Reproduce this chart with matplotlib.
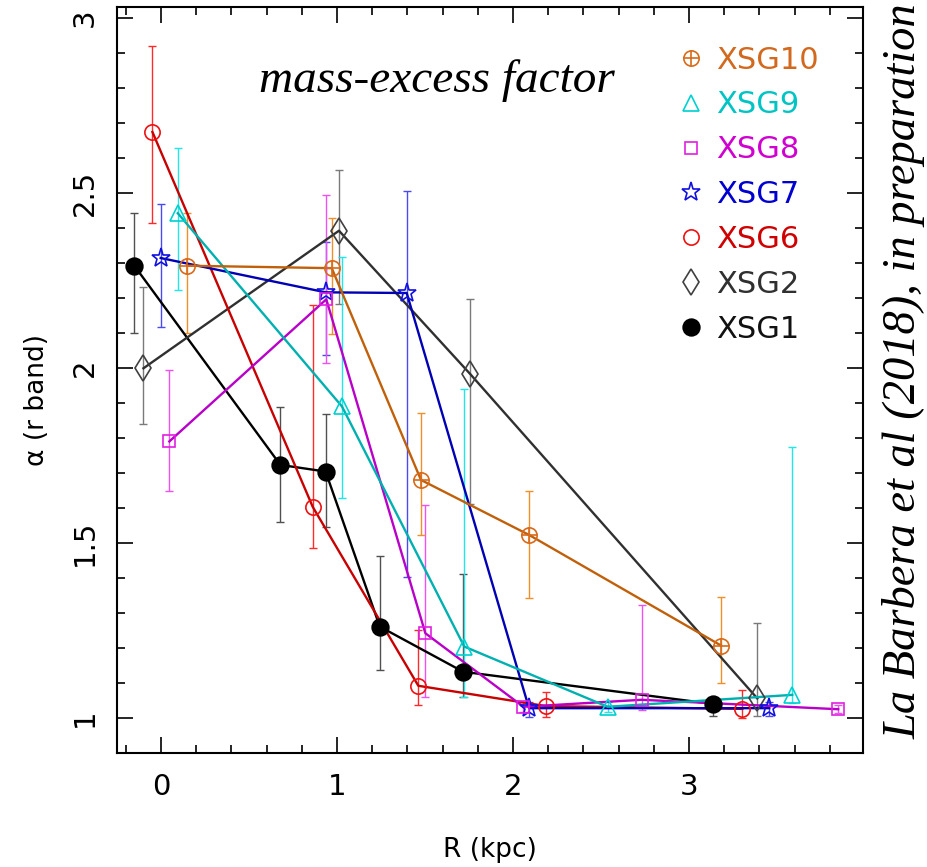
import matplotlib

matplotlib.use("Agg")
import matplotlib.pyplot as plt
import numpy as np
from matplotlib.lines import Line2D
from matplotlib.ticker import MultipleLocator

plt.rcParams["font.family"] = ["DejaVu Sans"]

# radius (kpc), alpha, and the lower / upper end of each error bar
r_xsg1 = [-0.152, 0.678, 0.935, 1.243, 1.717, 3.138]
a_xsg1 = [2.291, 1.722, 1.703, 1.260, 1.131, 1.039]
lo_xsg1 = [2.100, 1.558, 1.544, 1.136, 1.060, 1.006]
hi_xsg1 = [2.443, 1.888, 1.866, 1.462, 1.410, 1.060]

r_xsg2 = [-0.100, 1.011, 1.756, 3.388]
a_xsg2 = [1.998, 2.391, 1.982, 1.055]
lo_xsg2 = [1.840, 2.181, 1.610, 1.006]
hi_xsg2 = [2.231, 2.565, 2.196, 1.271]

r_xsg6 = [-0.049, 0.862, 1.462, 2.187, 3.303]
a_xsg6 = [2.673, 1.602, 1.091, 1.033, 1.025]
lo_xsg6 = [2.414, 1.486, 1.036, 1.001, 0.998]
hi_xsg6 = [2.919, 2.179, 1.251, 1.074, 1.079]

r_xsg7 = [-0.002, 0.935, 1.396, 2.091, 3.456]
a_xsg7 = [2.313, 2.215, 2.213, 1.027, 1.027]
lo_xsg7 = [2.115, 2.036, 1.403, 1.001, 1.005]
hi_xsg7 = [2.466, 2.358, 2.505, 1.046, 1.046]

r_xsg8 = [0.047, 0.939, 1.502, 2.059, 2.731, 3.848]
a_xsg8 = [1.789, 2.195, 1.241, 1.031, 1.051, 1.024]
lo_xsg8 = [1.646, 2.013, 1.060, 1.017, 1.022, 1.012]
hi_xsg8 = [1.993, 2.494, 1.606, 1.045, 1.322, 1.035]

r_xsg9 = [0.095, 1.028, 1.723, 2.538, 3.587]
a_xsg9 = [2.441, 1.889, 1.203, 1.031, 1.065]
lo_xsg9 = [2.222, 1.627, 1.060, 1.017, 1.041]
hi_xsg9 = [2.627, 2.315, 1.939, 1.045, 1.773]

r_xsg10 = [0.150, 0.970, 1.477, 2.091, 3.182]
a_xsg10 = [2.291, 2.284, 1.679, 1.522, 1.206]
lo_xsg10 = [2.098, 2.095, 1.522, 1.341, 1.100]
hi_xsg10 = [2.443, 2.427, 1.869, 1.648, 1.346]

# name, data, marker, line colour, marker colour, error-bar colour, filled, size
SERIES = [
    ("XSG1", r_xsg1, a_xsg1, lo_xsg1, hi_xsg1, "o", "black", "black", "#505050", True, 12),
    ("XSG2", r_xsg2, a_xsg2, lo_xsg2, hi_xsg2, "d", "#303030", "#404040", "#7a7a7a", False, 13),
    ("XSG6", r_xsg6, a_xsg6, lo_xsg6, hi_xsg6, "o", "#c80000", "#ee1111", "#ff2a2a", False, 11),
    ("XSG7", r_xsg7, a_xsg7, lo_xsg7, hi_xsg7, "*", "#0000b4", "#1010e0", "#4a4af0", False, 14),
    ("XSG8", r_xsg8, a_xsg8, lo_xsg8, hi_xsg8, "s", "#b800c8", "#e020e0", "#f050f0", False, 9),
    ("XSG9", r_xsg9, a_xsg9, lo_xsg9, hi_xsg9, "^", "#00b0b0", "#00d0d0", "#20e8e8", False, 11),
    ("XSG10", r_xsg10, a_xsg10, lo_xsg10, hi_xsg10, "o", "#c0600a", "#d86a1a", "#f0902a", False, 11),
]
LEGEND_ORDER = ["XSG10", "XSG9", "XSG8", "XSG7", "XSG6", "XSG2", "XSG1"]
TEXT_COLOURS = {"XSG10": "#d2691e", "XSG9": "#00c4c4", "XSG8": "#d000d0",
                "XSG7": "#0000d0", "XSG6": "#d00000", "XSG2": "#303030",
                "XSG1": "#111111"}

fig = plt.figure(figsize=(9.27, 8.67), dpi=100)
ax = fig.add_axes([0.1259, 0.1311, 0.8047, 0.8612])

handles = {}
for name, r, a, lo, hi, mk, lc, mc, ec, filled, ms in SERIES:
    r, a, lo, hi = map(np.asarray, (r, a, lo, hi))
    ax.errorbar(r, a, yerr=[a - lo, hi - a], fmt="none", ecolor=ec,
                elinewidth=1.0, capsize=3, capthick=1.0, zorder=2)
    ax.plot(r, a, color=lc, lw=1.7, zorder=3)
    style = dict(ls="none", marker=mk, ms=ms, mec=mc, mew=1.2,
                 mfc=mc if filled else "none")
    ax.plot(r, a, zorder=4, **style)
    h = Line2D([], [], **style)
    if name == "XSG10":
        # circle with a cross inside
        ax.plot(r, a, ls="none", marker="+", ms=ms, mec=mc, mew=1.2, zorder=4)
        h = (h, Line2D([], [], ls="none", marker="+", ms=ms, mec=mc, mew=1.2))
    handles[name] = h

leg = ax.legend([handles[n] for n in LEGEND_ORDER], LEGEND_ORDER,
                loc="upper left", bbox_to_anchor=(0.7537, 0.948),
                frameon=False, fontsize=22, handlelength=0.8,
                handletextpad=0.4, labelspacing=0.52, borderpad=0,
                borderaxespad=0, labelcolor=[TEXT_COLOURS[n] for n in LEGEND_ORDER])

ax.text(0.429, 0.886, "mass-excess factor", transform=ax.transAxes,
        ha="center", va="baseline", fontsize=34,
        family="Liberation Serif", style="italic")
fig.text(0.975, 0.572, "La Barbera et al (2018), in preparation",
         rotation=90, ha="center", va="center", fontsize=33.5,
         family="Liberation Serif", style="italic")

ax.set_xlim(-0.252, 3.987)
ax.set_ylim(0.898, 3.031)
ax.xaxis.set_major_locator(MultipleLocator(1))
ax.xaxis.set_minor_locator(MultipleLocator(0.2))
ax.yaxis.set_major_locator(MultipleLocator(0.5))
ax.yaxis.set_minor_locator(MultipleLocator(0.1))
ax.tick_params(which="both", direction="in", top=True, right=True, width=1.2)
ax.tick_params(which="major", length=11.5, labelsize=21)
ax.tick_params(which="minor", length=5.8)
ax.tick_params(axis="x", pad=14)
ax.tick_params(axis="y", pad=13, labelrotation=90)
ax.set_yticks([1, 1.5, 2, 2.5, 3])
ax.set_yticklabels(["1", "1.5", "2", "2.5", "3"], va="center")
for s in ax.spines.values():
    s.set_linewidth(1.5)

ax.set_xlabel("R (kpc)", fontsize=19, labelpad=26)
ax.set_ylabel("α (r band)", fontsize=19)
ax.yaxis.set_label_coords(-0.089, 0.473)

fig.savefig("out.png", dpi=100)
